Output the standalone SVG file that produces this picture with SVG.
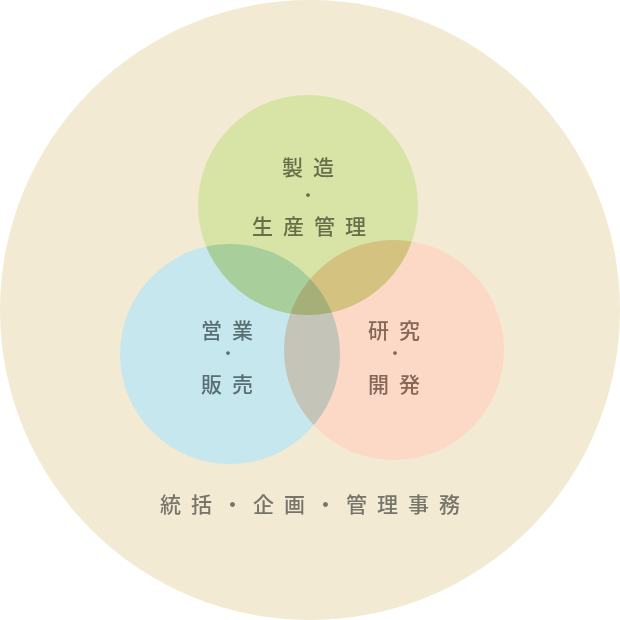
<svg xmlns="http://www.w3.org/2000/svg" width="620" height="620" viewBox="0 0 620 620">
<style>
.t{font-family:"Noto Sans CJK JP","Noto Sans CJK SC",sans-serif;font-size:21px;font-weight:500;letter-spacing:10px;text-anchor:middle}
.d{font-size:15px;font-weight:700;letter-spacing:0}
.g{fill:#686d4a}
.b{fill:#587074}
.p{fill:#866656}
.m{fill:#77746a}
.c{mix-blend-mode:multiply}
</style>
<rect width="620" height="620" fill="#ffffff"/>
<g id="outer">
<circle cx="310" cy="310" r="310" fill="#f3ead3"/>
<text class="t m" x="315" y="512">統括・企画・管理事務</text>
</g>
<g id="venn" style="isolation:isolate">
<circle id="c-green" class="c" cx="308" cy="205" r="110" fill="#d7e4a6"/>
<circle id="c-blue" class="c" cx="230" cy="354" r="110" fill="#c7e7ee"/>
<circle id="c-pink" class="c" cx="394" cy="350" r="110" fill="#fcd9c6"/>
</g>
<g id="node-seizo">
<text class="t g" x="313" y="175">製造</text>
<text class="t d g" x="308" y="201">・</text>
<text class="t g" x="314" y="234">生産管理</text>
</g>
<g id="node-eigyo">
<text class="t b" x="232" y="338">営業</text>
<text class="t d b" x="228" y="359">・</text>
<text class="t b" x="232" y="392">販売</text>
</g>
<g id="node-kenkyu">
<text class="t p" x="399" y="338">研究</text>
<text class="t d p" x="395" y="359">・</text>
<text class="t p" x="399" y="392">開発</text>
</g>
</svg>
